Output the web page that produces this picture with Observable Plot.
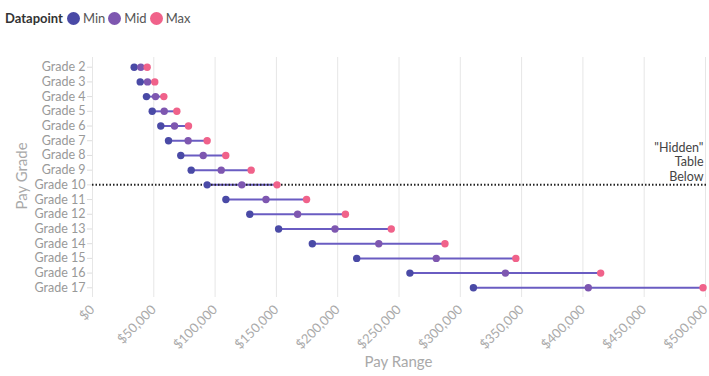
<!DOCTYPE html>
<html><head><meta charset="utf-8">
<script src="https://cdn.jsdelivr.net/npm/d3@7"></script>
<script src="https://cdn.jsdelivr.net/npm/@observablehq/plot@0.6"></script>
<style>
body{margin:0;background:#fff;font-family:Lato,"Noto Sans",sans-serif;overflow:hidden;}
#legend{height:36px;display:flex;align-items:center;padding-left:5px;font-size:13px;color:#555;}
#legend b{color:#333;margin-right:4px;font-size:13px;}
.sw{display:inline-block;width:13px;height:13px;border-radius:50%;margin:0 3px 0 0;}
.it{margin-right:3px;}
#chart svg{display:block;}
</style></head><body>
<div id="legend"></div>
<div id="chart"></div>
<script>
const grades = ["Grade 2","Grade 3","Grade 4","Grade 5","Grade 6","Grade 7","Grade 8","Grade 9","Grade 10","Grade 11","Grade 12","Grade 13","Grade 14","Grade 15","Grade 16","Grade 17"];
const minPay = [34000,38900,44000,48700,55700,62000,72000,80500,93500,108800,128300,151800,179300,215500,258900,310700];
const midPay = [39400,44900,51400,58500,66900,78000,90300,105000,121800,141500,167300,197800,233500,280400,336800,404400];
const maxPay = [44600,50800,58200,68800,78300,93500,108700,129400,150500,174600,206300,243700,287500,345300,414500,498000];
const seriesNames = ["Min","Mid","Max"];
const seriesColors = ["#4a4aa6","#7e57b0","#f0628a"];
const xTicks = [0,50000,100000,150000,200000,250000,300000,350000,400000,450000,500000];
const hiddenGrade = ["Grade 10"];
const hiddenText = ["\"Hidden\"\nTable\nBelow"];

const ranges = grades.map((g,i)=>({grade:g,min:minPay[i],mid:midPay[i],max:maxPay[i]}));
const points = [];
grades.forEach((g,i)=>{
  [minPay[i],midPay[i],maxPay[i]].forEach((v,j)=>points.push({grade:g,value:v,series:seriesNames[j]}));
});

const lg = document.getElementById("legend");
lg.innerHTML = "<b>Datapoint</b>" + seriesNames.map((s,i)=>`<span class="sw" style="background:${seriesColors[i]}"></span><span class="it">${s}</span>`).join("");

const fmt = d3.format("$,");
const chart = Plot.plot({
  width: 709,
  height: 340,
  marginLeft: 92,
  marginRight: 4,
  marginTop: 21,
  marginBottom: 79,
  style: {fontFamily: "Lato, 'Noto Sans', sans-serif", fontSize: "12px", color: "#aaa", background: "#fff"},
  x: {domain: [0,500000], ticks: xTicks, tickFormat: fmt, tickRotate: -45, label: null},
  y: {domain: grades, range: [30.7, 251.3], padding: 0, round: false, label: null},
  color: {domain: seriesNames, range: seriesColors},
  marks: [
    Plot.gridX(xTicks, {stroke: "#e6e6e6", strokeOpacity: 1}),
    Plot.axisX({ticks: xTicks, tickFormat: fmt, tickRotate: -45, tickSize: 0, tickPadding: 10, label: null, fill: "#aaa", fontSize: 13}),
    Plot.axisY({tickSize: 5, tickPadding: 2, label: null, fill: "#999", stroke: "#ddd", fontSize: 12.5}),
    Plot.link(ranges, {x1: "min", x2: "max", y1: "grade", y2: "grade", stroke: "#6a5cc2", strokeWidth: 2}),
    Plot.ruleY(hiddenGrade, {y: d=>d, stroke: "#222", strokeWidth: 2, strokeDasharray: "1.5,2", insetRight: -2}),
    Plot.dot(points, {x: "value", y: "grade", fill: "series", r: 3.7}),
    Plot.text(hiddenText, {x: ()=>500000, y: ()=>hiddenGrade[0], text: d=>d, textAnchor: "end", lineAnchor: "bottom", dy: -4, dx: -2, fill: "#444", fontSize: 12.5, lineHeight: 1.17})
  ]
});
document.getElementById("chart").appendChild(chart);
const svg = d3.select(chart);
svg.append("text").attr("x", (92+705)/2).attr("y", 362-36+5).attr("text-anchor","middle").attr("fill","#a9a9a9").style("font-size","15px").text("Pay Range");
svg.append("text").attr("transform",`translate(27,${176-36}) rotate(-90)`).attr("text-anchor","middle").attr("fill","#a9a9a9").style("font-size","15px").text("Pay Grade");
</script>
</body></html>
